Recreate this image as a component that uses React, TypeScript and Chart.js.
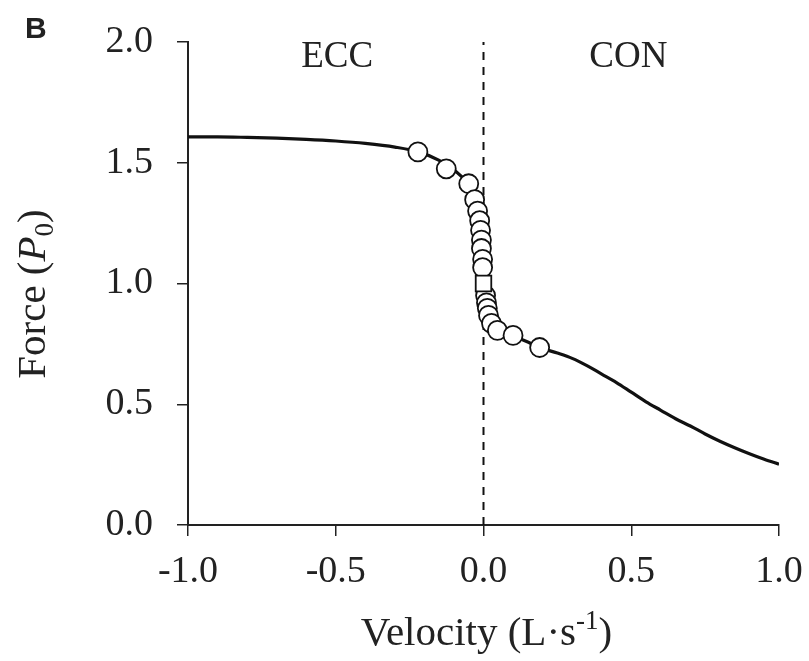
import React, { useEffect, useRef } from "react";
import { Chart, registerables } from "chart.js";

Chart.register(...registerables);

// Model curve (force-velocity relation)
const curveX = [-1.0, -0.9, -0.8, -0.7, -0.6, -0.5, -0.4, -0.3, -0.22, -0.15, -0.1, -0.06, -0.04, -0.025, -0.015, -0.008, -0.004, 0, 0.005, 0.01, 0.015, 0.025, 0.04, 0.06, 0.1, 0.15, 0.19, 0.25, 0.3, 0.35, 0.4, 0.45, 0.5, 0.55, 0.6, 0.65, 0.7, 0.75, 0.8, 0.85, 0.9, 0.95, 1.0];
const curveY = [1.607, 1.607, 1.605, 1.602, 1.597, 1.59, 1.58, 1.565, 1.545, 1.51, 1.47, 1.42, 1.36, 1.3, 1.25, 1.17, 1.09, 1.0, 0.945, 0.905, 0.875, 0.84, 0.815, 0.8, 0.783, 0.758, 0.735, 0.712, 0.69, 0.66, 0.625, 0.59, 0.55, 0.51, 0.475, 0.44, 0.41, 0.377, 0.347, 0.32, 0.295, 0.272, 0.252];

// Measured points (circles)
const pointX = [-0.222, -0.126, -0.05, -0.03, -0.02, -0.013, -0.01, -0.007, -0.007, -0.003, -0.003, 0.007, 0.01, 0.013, 0.017, 0.027, 0.047, 0.1, 0.19];
const pointY = [1.545, 1.475, 1.413, 1.347, 1.3, 1.26, 1.22, 1.18, 1.145, 1.1, 1.066, 0.95, 0.92, 0.897, 0.868, 0.835, 0.806, 0.785, 0.735];

// Isometric reference point (square)
const squareX = [0];
const squareY = [1.0];

const xTickValues = [-1.0, -0.5, 0.0, 0.5, 1.0];
const xTickLabels = ["-1.0", "-0.5", "0.0", "0.5", "1.0"];
const yTickValues = [0.0, 0.5, 1.0, 1.5, 2.0];
const yTickLabels = ["0.0", "0.5", "1.0", "1.5", "2.0"];

const regionLabels = ["ECC", "CON"];
const regionLabelX = [-0.495, 0.49];

const SERIF = "'Liberation Serif', 'Times New Roman', serif";
const TEXT = "#222";

type Part = { text: string; font: string; dy?: number };

function drawRich(ctx: CanvasRenderingContext2D, parts: Part[], cx: number, y: number) {
  let total = 0;
  const widths: number[] = [];
  for (const p of parts) {
    ctx.font = p.font;
    const w = ctx.measureText(p.text).width;
    widths.push(w);
    total += w;
  }
  let x = cx - total / 2;
  ctx.textAlign = "left";
  ctx.textBaseline = "alphabetic";
  parts.forEach((p, i) => {
    ctx.font = p.font;
    ctx.fillText(p.text, x, y + (p.dy || 0));
    x += widths[i];
  });
}

const annotPlugin = {
  id: "annot",
  afterDraw(chart: any) {
    const ctx: CanvasRenderingContext2D = chart.ctx;
    const xs = chart.scales.x;
    const area = chart.chartArea;
    ctx.save();
    ctx.fillStyle = TEXT;
    // Panel letter
    ctx.font = "bold 30px 'Liberation Sans', Arial, sans-serif";
    ctx.textAlign = "left";
    ctx.textBaseline = "alphabetic";
    ctx.fillText("B", 25, 38);
    // Region labels
    ctx.font = `37px ${SERIF}`;
    ctx.textAlign = "center";
    ctx.textBaseline = "middle";
    regionLabels.forEach((t, i) => {
      const px = xs.getPixelForValue(regionLabelX[i]);
      ctx.fillText(t, px, 57);
    });
    // X title
    const cx = (area.left + area.right) / 2;
    drawRich(
      ctx,
      [
        { text: "Velocity (L\u00b7s", font: `41px ${SERIF}` },
        { text: "-1", font: `27px ${SERIF}`, dy: -16 },
        { text: ")", font: `41px ${SERIF}` },
      ],
      cx + 3,
      645
    );
    // Y title
    ctx.translate(45, 294);
    ctx.rotate(-Math.PI / 2);
    drawRich(
      ctx,
      [
        { text: "Force (", font: `41px ${SERIF}` },
        { text: "P", font: `italic 41px ${SERIF}` },
        { text: "0", font: `27px ${SERIF}`, dy: 8 },
        { text: ")", font: `41px ${SERIF}` },
      ],
      0,
      0
    );
    ctx.restore();
  },
};

function zeroPadding(s: any) {
  s.paddingLeft = 0;
  s.paddingRight = 0;
  s.paddingTop = 0;
  s.paddingBottom = 0;
}

export default function App() {
  const ref = useRef<HTMLCanvasElement>(null);
  useEffect(() => {
    if (!ref.current) return;
    const chart = new Chart(ref.current, {
      type: "scatter",
      data: {
        datasets: [
          {
            label: "isometric",
            data: squareX.map((x, i) => ({ x, y: squareY[i] })),
            pointStyle: "rect",
            pointRadius: 11,
            backgroundColor: "#fff",
            borderColor: "#111",
            borderWidth: 1.8,
            order: 0,
          },
          {
            label: "points",
            data: pointX.map((x, i) => ({ x, y: pointY[i] })),
            pointRadius: 9.5,
            backgroundColor: "#fff",
            borderColor: "#111",
            borderWidth: 1.8,
            order: 1,
          },
          {
            label: "curve",
            type: "line",
            data: curveX.map((x, i) => ({ x, y: curveY[i] })),
            borderColor: "#111",
            borderWidth: 3.2,
            pointRadius: 0,
            cubicInterpolationMode: "monotone",
            fill: false,
            order: 2,
          },
          {
            label: "zero",
            type: "line",
            data: [
              { x: 0, y: 0 },
              { x: 0, y: 2 },
            ],
            borderColor: "#111",
            borderWidth: 2,
            borderDash: [8, 7],
            pointRadius: 0,
            fill: false,
            order: 3,
          },
        ] as any,
      },
      options: {
        animation: false,
        responsive: false,
        maintainAspectRatio: false,
        layout: { padding: { top: 42, right: 30, left: 0, bottom: 0 } },
        plugins: { legend: { display: false }, tooltip: { enabled: false } },
        scales: {
          x: {
            type: "linear",
            min: -1,
            max: 1,
            afterBuildTicks: (s: any) => {
              s.ticks = xTickValues.map((v) => ({ value: v }));
            },
            afterFit: (s: any) => {
              s.height = 136;
              zeroPadding(s);
            },
            ticks: {
              callback: (v: any) => {
                const i = xTickValues.indexOf(Number(v));
                return i >= 0 ? xTickLabels[i] : "";
              },
              font: { family: SERIF, size: 38 },
              color: TEXT,
              padding: 13,
              maxRotation: 0,
              autoSkip: false,
            },
            grid: { display: true, drawOnChartArea: false, drawTicks: true, tickLength: 11, color: "#222", lineWidth: 1.5 },
            border: { display: true, color: "#222", width: 2 },
          },
          y: {
            type: "linear",
            min: 0,
            max: 2,
            afterBuildTicks: (s: any) => {
              s.ticks = yTickValues.map((v) => ({ value: v }));
            },
            afterFit: (s: any) => {
              s.width = 188;
              zeroPadding(s);
            },
            ticks: {
              callback: (v: any) => {
                const i = yTickValues.indexOf(Number(v));
                return i >= 0 ? yTickLabels[i] : "";
              },
              font: { family: SERIF, size: 38 },
              color: TEXT,
              padding: 24,
              autoSkip: false,
            },
            grid: { display: true, drawOnChartArea: false, drawTicks: true, tickLength: 11, color: "#222", lineWidth: 1.5 },
            border: { display: true, color: "#222", width: 2 },
          },
        },
      },
      plugins: [annotPlugin],
    });
    return () => chart.destroy();
  }, []);
  return (
    <div style={{ position: "fixed", left: 0, top: 0, width: 809, height: 661, background: "#fff" }}>
      <canvas ref={ref} width={809} height={661} style={{ display: "block", width: 809, height: 661 }} />
    </div>
  );
}
